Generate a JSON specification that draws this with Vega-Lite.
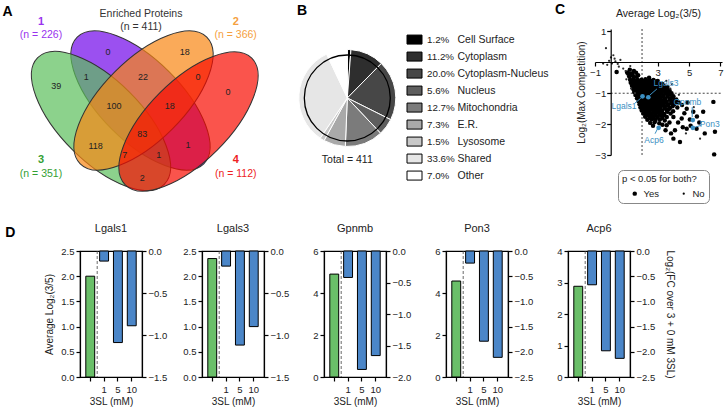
{
  "$schema": "https://vega.github.io/schema/vega-lite/v6.json",
  "padding": {"left": 2, "top": 2, "right": 2, "bottom": 2},
  "config": {
    "font": "Liberation Sans",
    "view": {"stroke": null},
    "axis": {"domainColor": "black", "domainWidth": 1.2, "tickColor": "black", "tickWidth": 1.2, "tickSize": 4, "labelFontSize": 9.5, "labelColor": "#222", "titleFontSize": 10, "titleFontWeight": "normal", "titleColor": "#222", "grid": false, "labelPadding": 2},
    "title": {"fontSize": 11, "fontWeight": "normal", "color": "#222"},
    "text": {"font": "Liberation Sans"}
  },
  "datasets": {
    "vennSets": [
      {"set": "1", "x": 140.5, "y": 98.5},
      {"set": "3", "x": 101, "y": 119},
      {"set": "2", "x": 143.5, "y": 98.5},
      {"set": "4", "x": 188.5, "y": 119.5}
    ],
    "vennCounts": [
      {"n": "0", "x": 108, "y": 50.3}, {"n": "18", "x": 184.7, "y": 50.3}, {"n": "39", "x": 56.3, "y": 84},
      {"n": "1", "x": 86.3, "y": 75.3}, {"n": "22", "x": 143, "y": 75.3}, {"n": "0", "x": 198, "y": 75.3},
      {"n": "0", "x": 228, "y": 90.3}, {"n": "100", "x": 114, "y": 103.7}, {"n": "18", "x": 169.7, "y": 103.7},
      {"n": "83", "x": 142.3, "y": 132}, {"n": "118", "x": 95.7, "y": 143.7}, {"n": "1", "x": 188, "y": 142.7},
      {"n": "7", "x": 124.7, "y": 153}, {"n": "1", "x": 158.7, "y": 153}, {"n": "2", "x": 142.3, "y": 176}
    ],
    "vennLabels": [
      {"set": "1", "n": "(n = 226)", "x": 41, "y": 20},
      {"set": "2", "n": "(n = 366)", "x": 235.7, "y": 20},
      {"set": "3", "n": "(n = 351)", "x": 41, "y": 158.3},
      {"set": "4", "n": "(n = 112)", "x": 235.7, "y": 158.3}
    ],
    "vennTitle": [
      {"t": "Enriched Proteins", "x": 141, "y": 12.3},
      {"t": "(n = 411)", "x": 141, "y": 24.5}
    ],
    "letters": [
      {"l": "A", "x": 2.5, "y": 2.5}, {"l": "B", "x": 297, "y": 2}, {"l": "C", "x": 555, "y": 1}
    ],
    "loc": [
      {"cat": "Cell Surface", "pct": 1.2, "pctl": "1.2%", "ord": 1},
      {"cat": "Cytoplasm", "pct": 11.2, "pctl": "11.2%", "ord": 2},
      {"cat": "Cytoplasm-Nucleus", "pct": 20.0, "pctl": "20.0%", "ord": 3},
      {"cat": "Nucleus", "pct": 5.6, "pctl": "5.6%", "ord": 4},
      {"cat": "Mitochondria", "pct": 12.7, "pctl": "12.7%", "ord": 5},
      {"cat": "E.R.", "pct": 7.3, "pctl": "7.3%", "ord": 6},
      {"cat": "Lysosome", "pct": 1.5, "pctl": "1.5%", "ord": 7},
      {"cat": "Shared", "pct": 33.6, "pctl": "33.6%", "ord": 8},
      {"cat": "Other", "pct": 7.0, "pctl": "7.0%", "ord": 9}
    ],
    "pts": [
      {"x": 1.22, "y": -0.24, "s": "Yes"}, {"x": 1.48, "y": -0.28, "s": "Yes"}, {"x": 1.05, "y": -0.33, "s": "Yes"},
      {"x": 0.38, "y": -0.31, "s": "Yes"}, {"x": 1.12, "y": -0.37, "s": "Yes"}, {"x": 1.35, "y": -0.36, "s": "Yes"}, {"x": 1.62, "y": -0.34, "s": "Yes"}, {"x": 1.75, "y": -0.42, "s": "Yes"},
      {"x": 1.18, "y": -0.46, "s": "Yes"}, {"x": 1.42, "y": -0.44, "s": "Yes"}, {"x": 1.66, "y": -0.47, "s": "Yes"}, {"x": 2.45, "y": -0.5, "s": "Yes"},
      {"x": 1.24, "y": -0.56, "s": "Yes"}, {"x": 1.47, "y": -0.54, "s": "Yes"}, {"x": 1.72, "y": -0.57, "s": "Yes"}, {"x": 1.97, "y": -0.56, "s": "Yes"}, {"x": 2.22, "y": -0.55, "s": "Yes"}, {"x": 2.48, "y": -0.58, "s": "Yes"}, {"x": 2.73, "y": -0.57, "s": "Yes"}, {"x": 3.0, "y": -0.6, "s": "Yes"},
      {"x": 1.28, "y": -0.66, "s": "Yes"}, {"x": 1.53, "y": -0.64, "s": "Yes"}, {"x": 1.78, "y": -0.67, "s": "Yes"}, {"x": 2.02, "y": -0.65, "s": "Yes"}, {"x": 2.27, "y": -0.63, "s": "Yes"}, {"x": 2.52, "y": -0.67, "s": "Yes"}, {"x": 2.78, "y": -0.64, "s": "Yes"}, {"x": 3.04, "y": -0.67, "s": "Yes"}, {"x": 3.3, "y": -0.7, "s": "Yes"},
      {"x": 1.36, "y": -0.76, "s": "Yes"}, {"x": 1.6, "y": -0.74, "s": "Yes"}, {"x": 1.86, "y": -0.77, "s": "Yes"}, {"x": 2.11, "y": -0.75, "s": "Yes"}, {"x": 2.36, "y": -0.73, "s": "Yes"}, {"x": 2.6, "y": -0.77, "s": "Yes"}, {"x": 2.86, "y": -0.75, "s": "Yes"}, {"x": 3.12, "y": -0.78, "s": "Yes"}, {"x": 3.38, "y": -0.76, "s": "Yes"}, {"x": 3.62, "y": -0.8, "s": "Yes"},
      {"x": 1.44, "y": -0.86, "s": "Yes"}, {"x": 1.7, "y": -0.84, "s": "Yes"}, {"x": 1.95, "y": -0.87, "s": "Yes"}, {"x": 2.2, "y": -0.85, "s": "Yes"}, {"x": 2.45, "y": -0.83, "s": "Yes"}, {"x": 2.7, "y": -0.87, "s": "Yes"}, {"x": 2.95, "y": -0.85, "s": "Yes"}, {"x": 3.2, "y": -0.88, "s": "Yes"}, {"x": 3.48, "y": -0.86, "s": "Yes"}, {"x": 3.75, "y": -0.9, "s": "Yes"},
      {"x": 1.5, "y": -0.96, "s": "Yes"}, {"x": 1.76, "y": -0.94, "s": "Yes"}, {"x": 2.0, "y": -0.97, "s": "Yes"}, {"x": 2.25, "y": -0.95, "s": "Yes"}, {"x": 2.5, "y": -0.93, "s": "Yes"}, {"x": 2.75, "y": -0.97, "s": "Yes"}, {"x": 3.0, "y": -0.95, "s": "Yes"}, {"x": 3.26, "y": -0.98, "s": "Yes"}, {"x": 3.55, "y": -0.96, "s": "Yes"}, {"x": 3.88, "y": -1.0, "s": "Yes"},
      {"x": 1.58, "y": -1.06, "s": "Yes"}, {"x": 1.84, "y": -1.04, "s": "Yes"}, {"x": 2.1, "y": -1.07, "s": "Yes"}, {"x": 2.34, "y": -1.05, "s": "Yes"}, {"x": 2.6, "y": -1.03, "s": "Yes"}, {"x": 2.85, "y": -1.07, "s": "Yes"}, {"x": 3.1, "y": -1.05, "s": "Yes"}, {"x": 3.36, "y": -1.08, "s": "Yes"}, {"x": 3.64, "y": -1.06, "s": "Yes"}, {"x": 4.0, "y": -1.1, "s": "Yes"},
      {"x": 1.68, "y": -1.16, "s": "Yes"}, {"x": 1.93, "y": -1.14, "s": "Yes"}, {"x": 2.2, "y": -1.17, "s": "Yes"}, {"x": 2.45, "y": -1.15, "s": "Yes"}, {"x": 2.7, "y": -1.13, "s": "Yes"}, {"x": 2.95, "y": -1.17, "s": "Yes"}, {"x": 3.2, "y": -1.15, "s": "Yes"}, {"x": 3.48, "y": -1.18, "s": "Yes"}, {"x": 3.8, "y": -1.16, "s": "Yes"}, {"x": 4.18, "y": -1.2, "s": "Yes"},
      {"x": 1.78, "y": -1.26, "s": "Yes"}, {"x": 2.04, "y": -1.24, "s": "Yes"}, {"x": 2.3, "y": -1.27, "s": "Yes"}, {"x": 2.55, "y": -1.25, "s": "Yes"}, {"x": 2.8, "y": -1.23, "s": "Yes"}, {"x": 3.05, "y": -1.27, "s": "Yes"}, {"x": 3.3, "y": -1.25, "s": "Yes"}, {"x": 3.58, "y": -1.28, "s": "Yes"}, {"x": 3.92, "y": -1.26, "s": "Yes"}, {"x": 4.35, "y": -1.3, "s": "Yes"},
      {"x": 1.84, "y": -1.36, "s": "Yes"}, {"x": 2.1, "y": -1.34, "s": "Yes"}, {"x": 2.36, "y": -1.37, "s": "Yes"}, {"x": 2.6, "y": -1.35, "s": "Yes"}, {"x": 2.86, "y": -1.33, "s": "Yes"}, {"x": 3.1, "y": -1.37, "s": "Yes"}, {"x": 3.38, "y": -1.35, "s": "Yes"}, {"x": 3.68, "y": -1.38, "s": "Yes"}, {"x": 4.05, "y": -1.36, "s": "Yes"}, {"x": 4.55, "y": -1.38, "s": "Yes"},
      {"x": 1.9, "y": -1.46, "s": "Yes"}, {"x": 2.15, "y": -1.44, "s": "Yes"}, {"x": 2.4, "y": -1.47, "s": "Yes"}, {"x": 2.65, "y": -1.45, "s": "Yes"}, {"x": 2.9, "y": -1.43, "s": "Yes"}, {"x": 3.16, "y": -1.47, "s": "Yes"}, {"x": 3.44, "y": -1.45, "s": "Yes"}, {"x": 3.78, "y": -1.48, "s": "Yes"}, {"x": 4.25, "y": -1.46, "s": "Yes"},
      {"x": 1.98, "y": -1.56, "s": "Yes"}, {"x": 2.24, "y": -1.54, "s": "Yes"}, {"x": 2.5, "y": -1.57, "s": "Yes"}, {"x": 2.75, "y": -1.55, "s": "Yes"}, {"x": 3.0, "y": -1.53, "s": "Yes"}, {"x": 3.28, "y": -1.57, "s": "Yes"}, {"x": 3.58, "y": -1.55, "s": "Yes"}, {"x": 3.98, "y": -1.58, "s": "Yes"},
      {"x": 2.08, "y": -1.66, "s": "Yes"}, {"x": 2.34, "y": -1.64, "s": "Yes"}, {"x": 2.6, "y": -1.67, "s": "Yes"}, {"x": 2.85, "y": -1.65, "s": "Yes"}, {"x": 3.1, "y": -1.63, "s": "Yes"}, {"x": 3.42, "y": -1.67, "s": "Yes"}, {"x": 3.82, "y": -1.66, "s": "Yes"},
      {"x": 2.2, "y": -1.76, "s": "Yes"}, {"x": 2.45, "y": -1.74, "s": "Yes"}, {"x": 2.7, "y": -1.77, "s": "Yes"}, {"x": 2.96, "y": -1.75, "s": "Yes"}, {"x": 3.24, "y": -1.73, "s": "Yes"}, {"x": 3.58, "y": -1.77, "s": "Yes"},
      {"x": 2.34, "y": -1.86, "s": "Yes"}, {"x": 2.6, "y": -1.84, "s": "Yes"}, {"x": 2.86, "y": -1.87, "s": "Yes"}, {"x": 3.14, "y": -1.85, "s": "Yes"}, {"x": 3.45, "y": -1.88, "s": "Yes"},
      {"x": 2.52, "y": -1.96, "s": "Yes"}, {"x": 2.8, "y": -1.94, "s": "Yes"}, {"x": 3.1, "y": -1.97, "s": "Yes"}, {"x": 2.7, "y": -2.05, "s": "Yes"}, {"x": 3.3, "y": -2.02, "s": "Yes"},
      {"x": 1.35, "y": -0.6, "s": "Yes"}, {"x": 1.6, "y": -0.61, "s": "Yes"}, {"x": 1.85, "y": -0.6, "s": "Yes"}, {"x": 2.1, "y": -0.61, "s": "Yes"}, {"x": 2.35, "y": -0.61, "s": "Yes"}, {"x": 2.6, "y": -0.61, "s": "Yes"}, {"x": 2.88, "y": -0.62, "s": "Yes"},
      {"x": 1.42, "y": -0.7, "s": "Yes"}, {"x": 1.66, "y": -0.71, "s": "Yes"}, {"x": 1.9, "y": -0.69, "s": "Yes"}, {"x": 2.16, "y": -0.7, "s": "Yes"}, {"x": 2.42, "y": -0.71, "s": "Yes"}, {"x": 2.68, "y": -0.69, "s": "Yes"}, {"x": 2.95, "y": -0.7, "s": "Yes"}, {"x": 3.2, "y": -0.71, "s": "Yes"},
      {"x": 1.5, "y": -0.8, "s": "Yes"}, {"x": 1.75, "y": -0.81, "s": "Yes"}, {"x": 2.0, "y": -0.79, "s": "Yes"}, {"x": 2.25, "y": -0.8, "s": "Yes"}, {"x": 2.5, "y": -0.81, "s": "Yes"}, {"x": 2.76, "y": -0.79, "s": "Yes"}, {"x": 3.02, "y": -0.8, "s": "Yes"}, {"x": 3.3, "y": -0.81, "s": "Yes"}, {"x": 3.55, "y": -0.82, "s": "Yes"},
      {"x": 1.6, "y": -0.9, "s": "Yes"}, {"x": 1.85, "y": -0.91, "s": "Yes"}, {"x": 2.1, "y": -0.89, "s": "Yes"}, {"x": 2.38, "y": -0.9, "s": "Yes"}, {"x": 2.62, "y": -0.91, "s": "Yes"}, {"x": 2.88, "y": -0.89, "s": "Yes"}, {"x": 3.12, "y": -0.9, "s": "Yes"}, {"x": 3.4, "y": -0.91, "s": "Yes"}, {"x": 3.68, "y": -0.93, "s": "Yes"},
      {"x": 1.7, "y": -1.0, "s": "Yes"}, {"x": 1.96, "y": -1.01, "s": "Yes"}, {"x": 2.22, "y": -0.99, "s": "Yes"}, {"x": 2.47, "y": -1.0, "s": "Yes"}, {"x": 2.72, "y": -1.01, "s": "Yes"}, {"x": 2.98, "y": -0.99, "s": "Yes"}, {"x": 3.22, "y": -1.0, "s": "Yes"}, {"x": 3.5, "y": -1.01, "s": "Yes"}, {"x": 3.78, "y": -1.03, "s": "Yes"},
      {"x": 1.78, "y": -1.1, "s": "Yes"}, {"x": 2.06, "y": -1.11, "s": "Yes"}, {"x": 2.32, "y": -1.09, "s": "Yes"}, {"x": 2.58, "y": -1.1, "s": "Yes"}, {"x": 2.83, "y": -1.11, "s": "Yes"}, {"x": 3.08, "y": -1.09, "s": "Yes"}, {"x": 3.34, "y": -1.1, "s": "Yes"}, {"x": 3.62, "y": -1.11, "s": "Yes"}, {"x": 3.95, "y": -1.13, "s": "Yes"},
      {"x": 1.9, "y": -1.2, "s": "Yes"}, {"x": 2.16, "y": -1.21, "s": "Yes"}, {"x": 2.42, "y": -1.19, "s": "Yes"}, {"x": 2.68, "y": -1.2, "s": "Yes"}, {"x": 2.92, "y": -1.21, "s": "Yes"}, {"x": 3.18, "y": -1.19, "s": "Yes"}, {"x": 3.45, "y": -1.2, "s": "Yes"}, {"x": 3.75, "y": -1.21, "s": "Yes"}, {"x": 4.08, "y": -1.23, "s": "Yes"},
      {"x": 1.96, "y": -1.3, "s": "Yes"}, {"x": 2.22, "y": -1.31, "s": "Yes"}, {"x": 2.48, "y": -1.29, "s": "Yes"}, {"x": 2.74, "y": -1.3, "s": "Yes"}, {"x": 2.98, "y": -1.31, "s": "Yes"}, {"x": 3.24, "y": -1.29, "s": "Yes"}, {"x": 3.52, "y": -1.3, "s": "Yes"}, {"x": 3.85, "y": -1.32, "s": "Yes"},
      {"x": 2.02, "y": -1.4, "s": "Yes"}, {"x": 2.28, "y": -1.41, "s": "Yes"}, {"x": 2.52, "y": -1.39, "s": "Yes"}, {"x": 2.78, "y": -1.4, "s": "Yes"}, {"x": 3.04, "y": -1.41, "s": "Yes"}, {"x": 3.3, "y": -1.39, "s": "Yes"}, {"x": 3.6, "y": -1.4, "s": "Yes"}, {"x": 3.95, "y": -1.42, "s": "Yes"},
      {"x": 2.1, "y": -1.5, "s": "Yes"}, {"x": 2.36, "y": -1.51, "s": "Yes"}, {"x": 2.62, "y": -1.49, "s": "Yes"}, {"x": 2.88, "y": -1.5, "s": "Yes"}, {"x": 3.14, "y": -1.51, "s": "Yes"}, {"x": 3.44, "y": -1.49, "s": "Yes"}, {"x": 3.72, "y": -1.51, "s": "Yes"},
      {"x": 2.2, "y": -1.6, "s": "Yes"}, {"x": 2.46, "y": -1.61, "s": "Yes"}, {"x": 2.72, "y": -1.59, "s": "Yes"}, {"x": 2.98, "y": -1.6, "s": "Yes"}, {"x": 3.26, "y": -1.61, "s": "Yes"}, {"x": 3.62, "y": -1.6, "s": "Yes"},
      {"x": 2.32, "y": -1.7, "s": "Yes"}, {"x": 2.58, "y": -1.71, "s": "Yes"}, {"x": 2.84, "y": -1.69, "s": "Yes"}, {"x": 3.1, "y": -1.7, "s": "Yes"}, {"x": 3.4, "y": -1.71, "s": "Yes"},
      {"x": 2.48, "y": -1.8, "s": "Yes"}, {"x": 2.74, "y": -1.81, "s": "Yes"}, {"x": 3.0, "y": -1.79, "s": "Yes"}, {"x": 3.3, "y": -1.8, "s": "Yes"},
      {"x": 4.0, "y": -1.77, "s": "Yes"}, {"x": 4.53, "y": -1.82, "s": "Yes"}, {"x": 4.85, "y": -2.15, "s": "Yes"}, {"x": 4.0, "y": -2.47, "s": "Yes"}, {"x": 4.42, "y": -2.58, "s": "Yes"},
      {"x": 3.5, "y": -2.2, "s": "Yes"}, {"x": 3.57, "y": -2.04, "s": "Yes"}, {"x": 5.9, "y": -1.6, "s": "Yes"}, {"x": 6.55, "y": -1.28, "s": "Yes"}, {"x": 6.65, "y": -2.25, "s": "Yes"},
      {"x": 6.6, "y": -2.98, "s": "Yes"}, {"x": 5.48, "y": -2.15, "s": "Yes"}, {"x": 6.0, "y": -2.3, "s": "Yes"}, {"x": 4.85, "y": -1.5, "s": "Yes"}, {"x": 5.27, "y": -1.6, "s": "Yes"},
      {"x": 4.2, "y": -1.28, "s": "Yes"}, {"x": 4.3, "y": -1.95, "s": "Yes"}, {"x": 4.7, "y": -1.65, "s": "Yes"}, {"x": 5.05, "y": -1.85, "s": "Yes"}, {"x": 5.65, "y": -1.95, "s": "Yes"},
      {"x": 4.1, "y": -2.2, "s": "Yes"}, {"x": 3.85, "y": -2.3, "s": "Yes"}, {"x": 5.1, "y": -2.05, "s": "Yes"}, {"x": 4.6, "y": -2.1, "s": "Yes"}, {"x": 3.75, "y": -1.95, "s": "Yes"},
      {"x": 5.5, "y": -1.75, "s": "Yes"}, {"x": 4.9, "y": -1.3, "s": "Yes"},
      {"x": -0.3, "y": 0.46, "s": "No"}, {"x": 0.17, "y": 0.23, "s": "No"}, {"x": 0.08, "y": -0.04, "s": "No"}, {"x": -0.22, "y": -0.08, "s": "No"},
      {"x": 0.3, "y": 0.03, "s": "No"}, {"x": 0.52, "y": -0.14, "s": "No"}, {"x": 0.8, "y": -0.2, "s": "No"}, {"x": 0.95, "y": -0.28, "s": "No"},
      {"x": 1.25, "y": -0.12, "s": "No"}, {"x": 3.8, "y": -0.85, "s": "No"}, {"x": 5.7, "y": -2.47, "s": "No"}, {"x": 1.0, "y": -0.55, "s": "No"},
      {"x": 1.55, "y": -1.0, "s": "No"}, {"x": 4.35, "y": -1.05, "s": "No"}, {"x": 0.62, "y": 0.08, "s": "No"}, {"x": -0.48, "y": -0.04, "s": "No"},
      {"x": 0.25, "y": 0.12, "s": "No"}, {"x": 0.02, "y": 0.16, "s": "No"}, {"x": 3.55, "y": -0.6, "s": "No"},
      {"x": 1.3, "y": -0.85, "s": "No"}, {"x": 4.8, "y": -2.3, "s": "No"}, {"x": 5.3, "y": -1.45, "s": "No"}, {"x": 3.9, "y": -0.7, "s": "No"},
      {"x": 0.45, "y": -0.05, "s": "No"}, {"x": -0.1, "y": 0.05, "s": "No"}
    ],
    "hi": [
      {"gene": "Lgals1", "x": 2.03, "y": -1.1, "tx": 0.85, "ty": -1.4, "x1": 1.55, "y1": -1.32, "x2": 1.92, "y2": -1.16},
      {"gene": "Lgals3", "x": 2.4, "y": -1.13, "tx": 3.53, "ty": -0.67, "x1": 2.5, "y1": -1.06, "x2": 2.95, "y2": -0.86},
      {"gene": "Gpnmb", "x": 5.24, "y": -1.87, "tx": 4.89, "ty": -1.28, "x1": 5.2, "y1": -1.45, "x2": 5.2, "y2": -1.77},
      {"gene": "Pon3", "x": 5.24, "y": -2.12, "tx": 6.32, "ty": -1.99, "x1": 5.4, "y1": -2.1, "x2": 5.8, "y2": -2.03},
      {"gene": "Acp6", "x": 3.06, "y": -2.12, "tx": 2.76, "ty": -2.5, "x1": 2.83, "y1": -2.31, "x2": 2.98, "y2": -2.16}
    ],
    "bars": [
      {"gene": "Lgals1", "cond": "g", "val": 2.0}, {"gene": "Lgals1", "cond": "1", "val": -0.12}, {"gene": "Lgals1", "cond": "5", "val": -1.09}, {"gene": "Lgals1", "cond": "10", "val": -0.89},
      {"gene": "Lgals3", "cond": "g", "val": 2.35}, {"gene": "Lgals3", "cond": "1", "val": -0.18}, {"gene": "Lgals3", "cond": "5", "val": -1.12}, {"gene": "Lgals3", "cond": "10", "val": -0.9},
      {"gene": "Gpnmb", "cond": "g", "val": 4.9}, {"gene": "Gpnmb", "cond": "1", "val": -0.42}, {"gene": "Gpnmb", "cond": "5", "val": -1.88}, {"gene": "Gpnmb", "cond": "10", "val": -1.66},
      {"gene": "Pon3", "cond": "g", "val": 4.57}, {"gene": "Pon3", "cond": "1", "val": -0.24}, {"gene": "Pon3", "cond": "5", "val": -1.79}, {"gene": "Pon3", "cond": "10", "val": -2.11},
      {"gene": "Acp6", "cond": "g", "val": 2.88}, {"gene": "Acp6", "cond": "1", "val": -0.67}, {"gene": "Acp6", "cond": "5", "val": -1.98}, {"gene": "Acp6", "cond": "10", "val": -2.13}
    ]
  },
  "vconcat": [
    {
      "hconcat": [
        {
          "width": 220, "height": 170,
          "layer": [
            {
              "data": {"name": "vennSets"},
              "transform": [{"filter": "datum.set == '1' || datum.set == '3'"}],
              "mark": {"type": "point", "shape": "M-1,0C-1,-0.2505,-0.5523,-0.4536,0,-0.4536C0.5523,-0.4536,1,-0.2505,1,0C1,0.2505,0.5523,0.4536,0,0.4536C-0.5523,0.4536,-1,0.2505,-1,0Z", "size": 32041, "angle": 45, "filled": true, "opacity": 1, "fillOpacity": 0.7, "stroke": "#333", "strokeWidth": 1},
              "encoding": {
                "x": {"field": "x", "type": "quantitative", "scale": {"domain": [80, 300], "nice": false, "zero": false}, "axis": null},
                "y": {"field": "y", "type": "quantitative", "scale": {"domain": [27, 197], "nice": false, "zero": false, "reverse": true}, "axis": null},
                "color": {"field": "set", "type": "nominal", "scale": {"domain": ["1", "2", "3", "4"], "range": ["#7005e9", "#f88613", "#5bbf5b", "#f80c00"]}, "legend": null}
              }
            },
            {
              "data": {"name": "vennSets"},
              "transform": [{"filter": "datum.set == '2' || datum.set == '4'"}],
              "mark": {"type": "point", "shape": "M-1,0C-1,-0.2505,-0.5523,-0.4536,0,-0.4536C0.5523,-0.4536,1,-0.2505,1,0C1,0.2505,0.5523,0.4536,0,0.4536C-0.5523,0.4536,-1,0.2505,-1,0Z", "size": 32041, "angle": 135, "filled": true, "opacity": 1, "fillOpacity": 0.7, "stroke": "#333", "strokeWidth": 1},
              "encoding": {
                "x": {"field": "x", "type": "quantitative", "scale": {"domain": [80, 300], "nice": false, "zero": false}, "axis": null},
                "y": {"field": "y", "type": "quantitative", "scale": {"domain": [27, 197], "nice": false, "zero": false, "reverse": true}, "axis": null},
                "color": {"field": "set", "type": "nominal", "scale": {"domain": ["1", "2", "3", "4"], "range": ["#7005e9", "#f88613", "#5bbf5b", "#f80c00"]}, "legend": null}
              }
            },
            {
              "data": {"name": "vennCounts"},
              "mark": {"type": "text", "fontSize": 9, "color": "#222"},
              "encoding": {
                "x": {"field": "x", "type": "quantitative"},
                "y": {"field": "y", "type": "quantitative"},
                "text": {"field": "n"}
              }
            },
            {
              "data": {"name": "vennTitle"},
              "mark": {"type": "text", "fontSize": 10.5, "color": "#333"},
              "encoding": {
                "x": {"field": "x", "type": "quantitative"},
                "y": {"field": "y", "type": "quantitative"},
                "text": {"field": "t"}
              }
            },
            {
              "data": {"name": "vennLabels"},
              "mark": {"type": "text", "fontSize": 11, "fontWeight": "bold"},
              "encoding": {
                "x": {"field": "x", "type": "quantitative"},
                "y": {"field": "y", "type": "quantitative"},
                "text": {"field": "set"},
                "color": {"field": "set", "type": "nominal", "scale": {"domain": ["1", "2", "3", "4"], "range": ["#9933ee", "#f5a040", "#33a033", "#ee2222"]}, "legend": null}
              }
            },
            {
              "data": {"name": "vennLabels"},
              "mark": {"type": "text", "fontSize": 10.5, "dy": 13.3},
              "encoding": {
                "x": {"field": "x", "type": "quantitative"},
                "y": {"field": "y", "type": "quantitative"},
                "text": {"field": "n"},
                "color": {"field": "set", "type": "nominal", "scale": {"domain": ["1", "2", "3", "4"], "range": ["#9933ee", "#f5a040", "#33a033", "#ee2222"]}, "legend": null}
              }
            },
            {
              "data": {"name": "letters"},
              "mark": {"type": "text", "fontSize": 14, "fontWeight": "bold", "align": "left", "baseline": "top", "color": "black"},
              "encoding": {
                "x": {"field": "x", "type": "quantitative"},
                "y": {"field": "y", "type": "quantitative"},
                "text": {"field": "l"}
              }
            }
          ],
          "resolve": {"scale": {"color": "independent"}}
        },
        {
          "width": 105, "height": 170,
          "layer": [
            {
              "data": {"name": "loc"},
              "mark": {"type": "arc", "outerRadius": 48.5, "stroke": "white", "strokeWidth": 1},
              "encoding": {
                "theta": {"field": "pct", "type": "quantitative", "stack": true},
                "order": {"field": "ord", "type": "quantitative"},
                "color": {"field": "cat", "type": "nominal", "scale": {"domain": ["Cell Surface", "Cytoplasm", "Cytoplasm-Nucleus", "Nucleus", "Mitochondria", "E.R.", "Lysosome", "Shared", "Other"], "range": ["#000000", "#2e2e2e", "#474747", "#5e5e5e", "#7b7b7b", "#a9a9a9", "#c8c8c8", "#e6e6e6", "#ffffff"]}, "legend": null},
                "x": {"datum": 347.3, "type": "quantitative", "scale": {"domain": [300, 405], "nice": false, "zero": false}, "axis": null},
                "y": {"datum": 96, "type": "quantitative", "scale": {"domain": [27, 197], "nice": false, "zero": false, "reverse": true}, "axis": null}
              }
            },
            {
              "data": {"values": [{"t": "Total = 411"}]},
              "mark": {"type": "point", "shape": "circle", "size": 7390, "filled": false, "opacity": 1, "stroke": "black", "strokeWidth": 1.3},
              "encoding": {
                "x": {"datum": 347.3, "type": "quantitative"},
                "y": {"datum": 96, "type": "quantitative"}
              }
            },
            {
              "data": {"values": [{"t": "Total = 411"}]},
              "mark": {"type": "text", "fontSize": 10.5, "color": "#222"},
              "encoding": {
                "x": {"datum": 347.3, "type": "quantitative"},
                "y": {"datum": 158.3, "type": "quantitative"},
                "text": {"field": "t"}
              }
            }
          ]
        },
        {
          "width": 190, "height": 170,
          "data": {"name": "loc"},
          "encoding": {
            "y": {"field": "cat", "type": "nominal", "scale": {"type": "point", "domain": ["Cell Surface", "Cytoplasm", "Cytoplasm-Nucleus", "Nucleus", "Mitochondria", "E.R.", "Lysosome", "Shared", "Other"], "padding": 1.898, "align": 0.311}, "axis": null}
          },
          "layer": [
            {
              "mark": {"type": "point", "shape": "M-1,-0.6L1,-0.6L1,0.6L-1,0.6Z", "size": 225, "filled": true, "opacity": 1, "stroke": "black", "strokeWidth": 1},
              "encoding": {
                "x": {"datum": 414.5, "type": "quantitative", "scale": {"domain": [405, 595], "nice": false, "zero": false}, "axis": null},
                "color": {"field": "cat", "type": "nominal", "scale": {"domain": ["Cell Surface", "Cytoplasm", "Cytoplasm-Nucleus", "Nucleus", "Mitochondria", "E.R.", "Lysosome", "Shared", "Other"], "range": ["#000000", "#2e2e2e", "#474747", "#5e5e5e", "#7b7b7b", "#a9a9a9", "#c8c8c8", "#e6e6e6", "#ffffff"]}, "legend": null}
              }
            },
            {
              "mark": {"type": "text", "align": "left", "fontSize": 9.8, "color": "#222"},
              "encoding": {
                "x": {"datum": 427, "type": "quantitative"},
                "text": {"field": "pctl"}
              }
            },
            {
              "mark": {"type": "text", "align": "left", "fontSize": 10.5, "color": "#222"},
              "encoding": {
                "x": {"datum": 457.5, "type": "quantitative"},
                "text": {"field": "cat"}
              }
            }
          ]
        },
        {
          "width": 127, "height": 126,
          "title": {"text": "Average Log₂(3/5)", "offset": 7, "fontSize": 10.5},
          "layer": [
            {
              "data": {"values": [{}]},
              "mark": {"type": "rule", "strokeDash": [2, 2], "color": "#444", "strokeWidth": 1},
              "encoding": {"x": {"datum": 2, "type": "quantitative", "scale": {"domain": [-1, 7.1], "nice": false, "zero": false}, "axis": {"orient": "bottom", "offset": -93, "zindex": 1, "values": [-1, 2, 3, 4, 5, 6, 7], "labelOverlap": false, "labelFlush": false, "title": null, "labelPadding": 1}}}
            },
            {
              "data": {"values": [{}]},
              "mark": {"type": "rule", "strokeDash": [2, 2], "color": "#444", "strokeWidth": 1},
              "encoding": {
                "y": {"datum": -1, "type": "quantitative", "scale": {"domain": [-3, 1.08], "nice": false, "zero": false}, "axis": {"orient": "left", "offset": -15.7, "zindex": 1, "values": [1, -1, -2, -3], "labelOverlap": false, "labelFlush": false, "title": "Log₂(Max Competition)", "titlePadding": 8, "labelPadding": 1}},
                "x": {"datum": 0, "type": "quantitative"},
                "x2": {"datum": 7.1}
              }
            },
            {
              "data": {"name": "pts"},
              "mark": {"type": "point", "filled": true, "opacity": 1, "shape": "circle"},
              "encoding": {
                "x": {"field": "x", "type": "quantitative"},
                "y": {"field": "y", "type": "quantitative"},
                "color": {"field": "s", "type": "nominal", "scale": {"domain": ["Yes", "No"], "range": ["black", "#aaaaaa"]}, "legend": {"title": "p < 0.05 for both?", "orient": "none", "legendX": 538, "legendY": 141, "direction": "horizontal", "titleFontSize": 9.5, "titleFontWeight": "normal", "titleColor": "#222", "labelFontSize": 9.5, "labelColor": "#222", "strokeColor": "#888", "cornerRadius": 5, "padding": 4, "columnPadding": 12, "symbolOffset": 8, "symbolStrokeWidth": 0}},
                "size": {"field": "s", "type": "nominal", "scale": {"domain": ["Yes", "No"], "range": [20, 5]}, "legend": {"title": "p < 0.05 for both?", "orient": "none", "legendX": 538, "legendY": 141, "direction": "horizontal", "titleFontSize": 9.5, "titleFontWeight": "normal", "titleColor": "#222", "labelFontSize": 9.5, "labelColor": "#222", "strokeColor": "#888", "cornerRadius": 5, "padding": 4, "columnPadding": 12, "symbolOffset": 8, "symbolStrokeWidth": 0}}
              }
            },
            {
              "data": {"name": "hi"},
              "mark": {"type": "rule", "color": "#3b8fc2", "strokeWidth": 1},
              "encoding": {
                "x": {"field": "x1", "type": "quantitative"},
                "y": {"field": "y1", "type": "quantitative"},
                "x2": {"field": "x2"},
                "y2": {"field": "y2"}
              }
            },
            {
              "data": {"name": "hi"},
              "mark": {"type": "point", "filled": true, "opacity": 1, "shape": "circle", "size": 22, "color": "#3b8fc2"},
              "encoding": {
                "x": {"field": "x", "type": "quantitative"},
                "y": {"field": "y", "type": "quantitative"}
              }
            },
            {
              "data": {"name": "hi"},
              "mark": {"type": "text", "fontSize": 8.5, "color": "#3b8fc2"},
              "encoding": {
                "x": {"field": "tx", "type": "quantitative"},
                "y": {"field": "ty", "type": "quantitative"},
                "text": {"field": "gene"}
              }
            }
          ]
        }
      ],
      "bounds": "flush",
      "spacing": 0
    },
    {
      "title": {"text": "D", "anchor": "start", "frame": "bounds", "fontSize": 14, "fontWeight": "bold", "color": "black", "offset": -18, "dx": -39},
      "hconcat": [
        {
          "width": 62, "height": 126,
          "view": {"stroke": "black", "strokeWidth": 1.2},
          "title": {"text": "Lgals1", "offset": 12},
          "data": {"name": "bars"},
          "transform": [{"filter": "datum.gene == 'Lgals1'"}],
          "encoding": {"x": {"field": "cond", "type": "nominal", "sort": ["g", "1", "5", "10"], "scale": {"domain": ["g", "1", "5", "10"], "paddingInner": 0.357, "paddingOuter": 0.42}, "axis": {"title": "3SL (mM)", "labelExpr": "datum.value == 'g' ? '' : datum.label", "labelAngle": 0, "labelPadding": 3, "titlePadding": 3}}},
          "layer": [
            {"transform": [{"filter": "datum.cond == 'g'"}], "mark": {"type": "bar", "fill": "#6abf69", "stroke": "black", "strokeWidth": 1},
             "encoding": {"y": {"field": "val", "type": "quantitative", "scale": {"domain": [0, 2.5], "nice": false}, "axis": {"orient": "left", "values": [0, 0.5, 1, 1.5, 2, 2.5], "format": ".1f", "title": "Average Log₂(3/5)", "titlePadding": 6}}}},
            {"transform": [{"filter": "datum.cond != 'g'"}], "mark": {"type": "bar", "fill": "#4b86c8", "stroke": "black", "strokeWidth": 1},
             "encoding": {"y": {"field": "val", "type": "quantitative", "scale": {"domain": [-1.5, 0], "nice": false}, "axis": {"orient": "right", "values": [0, -0.5, -1, -1.5], "format": ".1f", "title": null}}}},
            {"transform": [{"filter": "datum.cond == 'g'"}], "mark": {"type": "rule", "strokeDash": [3, 2], "color": "#444", "strokeWidth": 0.8},
             "encoding": {"x": {"field": "cond", "type": "nominal", "bandPosition": 1.28}}}
          ],
          "resolve": {"scale": {"y": "independent"}}
        },
        {
          "width": 62, "height": 126,
          "view": {"stroke": "black", "strokeWidth": 1.2},
          "title": {"text": "Lgals3", "offset": 12},
          "data": {"name": "bars"},
          "transform": [{"filter": "datum.gene == 'Lgals3'"}],
          "encoding": {"x": {"field": "cond", "type": "nominal", "sort": ["g", "1", "5", "10"], "scale": {"domain": ["g", "1", "5", "10"], "paddingInner": 0.357, "paddingOuter": 0.42}, "axis": {"title": "3SL (mM)", "labelExpr": "datum.value == 'g' ? '' : datum.label", "labelAngle": 0, "labelPadding": 3, "titlePadding": 3}}},
          "layer": [
            {"transform": [{"filter": "datum.cond == 'g'"}], "mark": {"type": "bar", "fill": "#6abf69", "stroke": "black", "strokeWidth": 1},
             "encoding": {"y": {"field": "val", "type": "quantitative", "scale": {"domain": [0, 2.5], "nice": false}, "axis": {"orient": "left", "values": [0, 0.5, 1, 1.5, 2, 2.5], "format": ".1f", "title": null}}}},
            {"transform": [{"filter": "datum.cond != 'g'"}], "mark": {"type": "bar", "fill": "#4b86c8", "stroke": "black", "strokeWidth": 1},
             "encoding": {"y": {"field": "val", "type": "quantitative", "scale": {"domain": [-1.5, 0], "nice": false}, "axis": {"orient": "right", "values": [0, -0.5, -1, -1.5], "format": ".1f", "title": null}}}},
            {"transform": [{"filter": "datum.cond == 'g'"}], "mark": {"type": "rule", "strokeDash": [3, 2], "color": "#444", "strokeWidth": 0.8},
             "encoding": {"x": {"field": "cond", "type": "nominal", "bandPosition": 1.28}}}
          ],
          "resolve": {"scale": {"y": "independent"}}
        },
        {
          "width": 62, "height": 126,
          "view": {"stroke": "black", "strokeWidth": 1.2},
          "title": {"text": "Gpnmb", "offset": 12},
          "data": {"name": "bars"},
          "transform": [{"filter": "datum.gene == 'Gpnmb'"}],
          "encoding": {"x": {"field": "cond", "type": "nominal", "sort": ["g", "1", "5", "10"], "scale": {"domain": ["g", "1", "5", "10"], "paddingInner": 0.357, "paddingOuter": 0.42}, "axis": {"title": "3SL (mM)", "labelExpr": "datum.value == 'g' ? '' : datum.label", "labelAngle": 0, "labelPadding": 3, "titlePadding": 3}}},
          "layer": [
            {"transform": [{"filter": "datum.cond == 'g'"}], "mark": {"type": "bar", "fill": "#6abf69", "stroke": "black", "strokeWidth": 1},
             "encoding": {"y": {"field": "val", "type": "quantitative", "scale": {"domain": [0, 6], "nice": false}, "axis": {"orient": "left", "values": [0, 2, 4, 6], "format": "d", "title": null}}}},
            {"transform": [{"filter": "datum.cond != 'g'"}], "mark": {"type": "bar", "fill": "#4b86c8", "stroke": "black", "strokeWidth": 1},
             "encoding": {"y": {"field": "val", "type": "quantitative", "scale": {"domain": [-2, 0], "nice": false}, "axis": {"orient": "right", "values": [0, -0.5, -1, -1.5, -2], "format": ".1f", "title": null}}}},
            {"transform": [{"filter": "datum.cond == 'g'"}], "mark": {"type": "rule", "strokeDash": [3, 2], "color": "#444", "strokeWidth": 0.8},
             "encoding": {"x": {"field": "cond", "type": "nominal", "bandPosition": 1.28}}}
          ],
          "resolve": {"scale": {"y": "independent"}}
        },
        {
          "width": 62, "height": 126,
          "view": {"stroke": "black", "strokeWidth": 1.2},
          "title": {"text": "Pon3", "offset": 12},
          "data": {"name": "bars"},
          "transform": [{"filter": "datum.gene == 'Pon3'"}],
          "encoding": {"x": {"field": "cond", "type": "nominal", "sort": ["g", "1", "5", "10"], "scale": {"domain": ["g", "1", "5", "10"], "paddingInner": 0.357, "paddingOuter": 0.42}, "axis": {"title": "3SL (mM)", "labelExpr": "datum.value == 'g' ? '' : datum.label", "labelAngle": 0, "labelPadding": 3, "titlePadding": 3}}},
          "layer": [
            {"transform": [{"filter": "datum.cond == 'g'"}], "mark": {"type": "bar", "fill": "#6abf69", "stroke": "black", "strokeWidth": 1},
             "encoding": {"y": {"field": "val", "type": "quantitative", "scale": {"domain": [0, 6], "nice": false}, "axis": {"orient": "left", "values": [0, 2, 4, 6], "format": "d", "title": null}}}},
            {"transform": [{"filter": "datum.cond != 'g'"}], "mark": {"type": "bar", "fill": "#4b86c8", "stroke": "black", "strokeWidth": 1},
             "encoding": {"y": {"field": "val", "type": "quantitative", "scale": {"domain": [-2.5, 0], "nice": false}, "axis": {"orient": "right", "values": [0, -0.5, -1, -1.5, -2, -2.5], "format": ".1f", "title": null}}}},
            {"transform": [{"filter": "datum.cond == 'g'"}], "mark": {"type": "rule", "strokeDash": [3, 2], "color": "#444", "strokeWidth": 0.8},
             "encoding": {"x": {"field": "cond", "type": "nominal", "bandPosition": 1.28}}}
          ],
          "resolve": {"scale": {"y": "independent"}}
        },
        {
          "width": 62, "height": 126,
          "view": {"stroke": "black", "strokeWidth": 1.2},
          "title": {"text": "Acp6", "offset": 12},
          "data": {"name": "bars"},
          "transform": [{"filter": "datum.gene == 'Acp6'"}],
          "encoding": {"x": {"field": "cond", "type": "nominal", "sort": ["g", "1", "5", "10"], "scale": {"domain": ["g", "1", "5", "10"], "paddingInner": 0.357, "paddingOuter": 0.42}, "axis": {"title": "3SL (mM)", "labelExpr": "datum.value == 'g' ? '' : datum.label", "labelAngle": 0, "labelPadding": 3, "titlePadding": 3}}},
          "layer": [
            {"transform": [{"filter": "datum.cond == 'g'"}], "mark": {"type": "bar", "fill": "#6abf69", "stroke": "black", "strokeWidth": 1},
             "encoding": {"y": {"field": "val", "type": "quantitative", "scale": {"domain": [0, 4], "nice": false}, "axis": {"orient": "left", "values": [0, 1, 2, 3, 4], "format": "d", "title": null}}}},
            {"transform": [{"filter": "datum.cond != 'g'"}], "mark": {"type": "bar", "fill": "#4b86c8", "stroke": "black", "strokeWidth": 1},
             "encoding": {"y": {"field": "val", "type": "quantitative", "scale": {"domain": [-2.5, 0], "nice": false}, "axis": {"orient": "right", "values": [0, -0.5, -1, -1.5, -2, -2.5], "format": ".1f", "title": "Log₂(FC over 3 + 0 mM 3SL)", "titlePadding": 10}}}},
            {"transform": [{"filter": "datum.cond == 'g'"}], "mark": {"type": "rule", "strokeDash": [3, 2], "color": "#444", "strokeWidth": 0.8},
             "encoding": {"x": {"field": "cond", "type": "nominal", "bandPosition": 1.28}}}
          ],
          "resolve": {"scale": {"y": "independent"}}
        }
      ],
      "bounds": "flush",
      "spacing": 60
    }
  ],
  "spacing": 23
}
